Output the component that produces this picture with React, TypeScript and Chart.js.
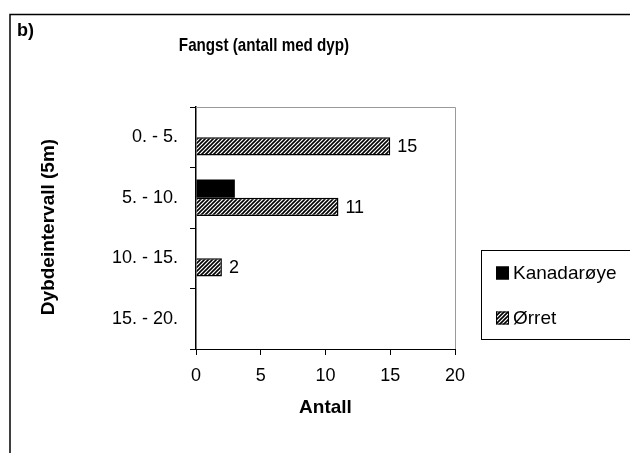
import React, { useEffect, useRef } from "react";
import { Chart, registerables } from "chart.js";

Chart.register(...registerables);

// Depth intervals (5 m steps) and catch counts per species
const depthIntervals = ["0. - 5.", "5. - 10.", "10. - 15.", "15. - 20."];
const seriesNames = ["Kanadarøye", "Ørret"];
const kanadaroyeCounts = [0, 3, 0, 0];
const orretCounts = [15, 11, 2, 0];
const xTicks = [0, 5, 10, 15, 20];

const chartTitle = "Fangst (antall med dyp)";
const panelLabel = "b)";
const xTitle = "Antall";
const yTitle = "Dybdeintervall (5m)";

const FONT = "'Liberation Sans', Arial, sans-serif";

function makeHatch(): CanvasPattern | string {
  const tile = document.createElement("canvas");
  tile.width = 4;
  tile.height = 4;
  const c = tile.getContext("2d");
  if (!c) return "#777";
  c.fillStyle = "#ffffff";
  c.fillRect(0, 0, 4, 4);
  c.strokeStyle = "#000000";
  c.lineWidth = 1.6;
  c.beginPath();
  c.moveTo(-1, 5);
  c.lineTo(5, -1);
  c.moveTo(-1, 1);
  c.lineTo(1, -1);
  c.moveTo(3, 5);
  c.lineTo(5, 3);
  c.stroke();
  const p = c.createPattern(tile, "repeat");
  return p || "#777";
}

export default function App() {
  const canvasRef = useRef<HTMLCanvasElement | null>(null);

  useEffect(() => {
    const canvas = canvasRef.current;
    if (!canvas) return;
    const ctx = canvas.getContext("2d");
    if (!ctx) return;
    const hatch = makeHatch();

    const decorations = {
      id: "decorations",
      beforeDraw(chart: any) {
        const g = chart.ctx;
        g.save();
        g.fillStyle = "#ffffff";
        g.fillRect(0, 0, chart.width, chart.height);
        // outer frame
        g.strokeStyle = "#000";
        g.lineWidth = 1.5;
        g.strokeRect(10, 14.5, 700, 500);
        g.fillStyle = "#000";
        g.textBaseline = "middle";
        g.textAlign = "left";
        g.font = `bold 18px ${FONT}`;
        g.fillText(panelLabel, 17, 31);

        // chart title in a condensed bold face
        g.save();
        g.translate(264, 46);
        g.scale(0.82, 1);
        g.textAlign = "center";
        g.font = `bold 18.5px ${FONT}`;
        g.fillText(chartTitle, 0, 0);
        g.restore();

        const a = chart.chartArea;
        g.textAlign = "center";
        g.font = `bold 19px ${FONT}`;
        g.fillText(xTitle, (a.left + a.right) / 2, 408);
        g.save();
        g.translate(49, (a.top + a.bottom) / 2 - 1);
        g.rotate(-Math.PI / 2);
        g.fillText(yTitle, 0, 0);
        g.restore();

        // legend
        g.lineWidth = 1;
        g.strokeStyle = "#000";
        g.strokeRect(481.5, 250.5, 200, 89);
        g.font = `19px ${FONT}`;
        g.textAlign = "left";
        const items = [
          { y: 273, fill: "#000" as any },
          { y: 318, fill: hatch as any },
        ];
        items.forEach((it, i) => {
          g.fillStyle = it.fill;
          g.fillRect(496, it.y - 6.5, 13, 13);
          g.strokeStyle = "#000";
          g.lineWidth = 1;
          g.strokeRect(496.5, it.y - 6, 12, 12);
          g.fillStyle = "#000";
          g.fillText(seriesNames[i], 513, it.y + 1);
        });
        g.restore();
      },
      afterDraw(chart: any) {
        const g = chart.ctx;
        const a = chart.chartArea;
        g.save();
        g.strokeStyle = "#9a9a9a";
        g.lineWidth = 1;
        g.beginPath();
        g.moveTo(a.left, a.top + 0.5);
        g.lineTo(a.right + 0.5, a.top + 0.5);
        g.lineTo(a.right + 0.5, a.bottom);
        g.stroke();
        g.restore();
      },
      afterDatasetsDraw(chart: any) {
        const g = chart.ctx;
        const meta = chart.getDatasetMeta(1);
        g.save();
        g.fillStyle = "#000";
        g.font = `18px ${FONT}`;
        g.textAlign = "left";
        g.textBaseline = "middle";
        meta.data.forEach((el: any, i: number) => {
          const v = orretCounts[i];
          if (!v) return;
          g.fillText(String(v), el.x + 7, el.y + 1);
        });
        g.restore();
      },
    };

    const chart = new Chart(ctx, {
      type: "bar",
      data: {
        labels: depthIntervals,
        datasets: [
          {
            label: seriesNames[0],
            data: kanadaroyeCounts,
            backgroundColor: "#000",
            borderColor: "#000",
            borderWidth: 0,
          },
          {
            label: seriesNames[1],
            data: orretCounts,
            backgroundColor: hatch as any,
            borderColor: "#000",
            borderWidth: 1.5,
            borderSkipped: "start",
          },
        ],
      },
      options: {
        indexAxis: "y",
        responsive: false,
        maintainAspectRatio: false,
        animation: false,
        devicePixelRatio: 1,
        layout: { padding: { top: 107, right: 175, left: 0, bottom: 0 } },
        datasets: { bar: { categoryPercentage: 0.6, barPercentage: 1.0 } },
        plugins: {
          legend: { display: false },
          title: { display: false },
          tooltip: { enabled: false },
        },
        scales: {
          x: {
            type: "linear",
            min: 0,
            max: 20,
            afterBuildTicks(scale: any) {
              scale.ticks = xTicks.map((v) => ({ value: v }));
            },
            afterFit(scale: any) {
              scale.height = 104;
            },
            grid: {
              display: true,
              drawOnChartArea: false,
              drawTicks: true,
              tickLength: 6,
              color: "#000",
            },
            border: { display: true, color: "#000", width: 1 },
            ticks: {
              color: "#000",
              padding: 10,
              font: { family: FONT, size: 18 },
            },
          },
          y: {
            type: "category",
            offset: true,
            afterFit(scale: any) {
              scale.width = 196;
            },
            grid: {
              display: true,
              offset: true,
              drawOnChartArea: false,
              drawTicks: true,
              tickLength: 6,
              color: "#000",
            },
            border: { display: true, color: "#000", width: 1.5 },
            ticks: {
              color: "#000",
              padding: 12,
              font: { family: FONT, size: 18 },
            },
          },
        },
      },
      plugins: [decorations],
    } as any);

    return () => chart.destroy();
  }, []);

  return (
    <div style={{ position: "absolute", left: 0, top: 0, width: 630, height: 453 }}>
      <canvas ref={canvasRef} width={630} height={453} />
    </div>
  );
}
